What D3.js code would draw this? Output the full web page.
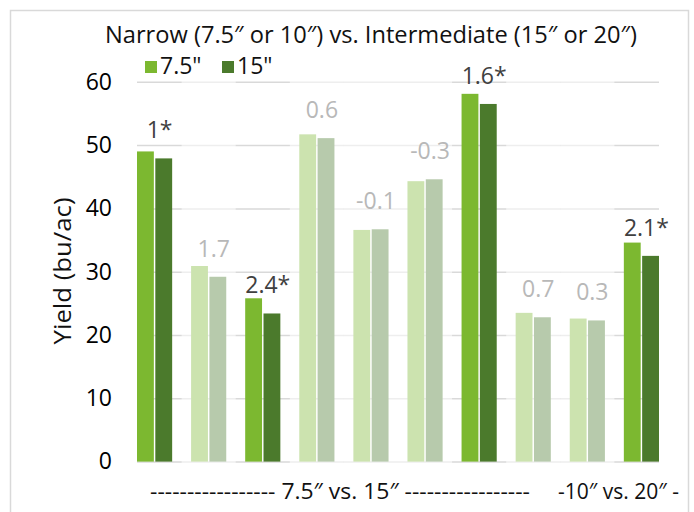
<!DOCTYPE html>
<html>
<head>
<meta charset="utf-8">
<script src="https://d3js.org/d3.v7.min.js"></script>
<style>
    body { margin: 0; background: #fff; }
    text { font-family: "Open Sans", "Noto Sans", sans-serif; }
</style>
</head>
<body>
<div id="elements"></div>
<script>
// Data
var groups = ["g1", "g2", "g3", "g4", "g5", "g6", "g7", "g8", "g9", "g10"];
var series = ["7.5\"", "15\""];
var narrow = [49.0, 30.9, 25.8, 51.7, 36.6, 44.3, 58.1, 23.5, 22.6, 34.6];
var intermediate = [47.9, 29.2, 23.4, 51.1, 36.7, 44.6, 56.5, 22.8, 22.3, 32.5];
var diffLabels = ["1*", "1.7", "2.4*", "0.6", "-0.1", "-0.3", "1.6*", "0.7", "0.3", "2.1*"];
var significant = [true, false, true, false, false, false, true, false, false, true];
var yTicks = [0, 10, 20, 30, 40, 50, 60];
var bottomLabels = ["----------------- 7.5\u2033 vs. 15\u2033 -----------------", "-10\u2033 vs. 20\u2033 -"];

var width = 694,
    height = 512;

var colors = {
    on: ["#7cb830", "#4b7a2c"],
    off: ["#cce3af", "#b7caac"]
};

var svg = d3.select("#elements").append("svg")
    .attr("width", width)
    .attr("height", height);

// outer frame
svg.append("rect")
    .attr("x", 10.5)
    .attr("y", 10.5)
    .attr("width", 678)
    .attr("height", 540)
    .attr("fill", "none")
    .attr("stroke", "#d9d9d9")
    .attr("stroke-width", 1.5);

var x = d3.scaleBand()
    .domain(groups)
    .range([137, 659])
    .paddingInner(0.35)
    .paddingOuter(0);

var xSub = d3.scaleBand()
    .domain(series)
    .range([0, x.bandwidth()])
    .paddingInner(0.08);

var y = d3.scaleLinear()
    .domain([0, 60])
    .range([461.6, 81.8]);

// gridlines
svg.append("g")
    .attr("class", "grid")
    .attr("transform", "translate(" + x.range()[0] + ",0)")
    .call(d3.axisLeft(y)
        .tickValues(yTicks)
        .tickSize(-(x.range()[1] - x.range()[0]))
        .tickFormat(""))
    .call(function(g) {
        g.select(".domain").remove();
        g.selectAll("line")
            .attr("stroke", "#d9d9d9")
            .attr("stroke-width", 1.5);
    });

// white wash behind the non significant groups
var half = x.step() * x.paddingInner() / 2;
svg.append("g")
    .selectAll("rect")
    .data(groups.filter(function(d, i) { return !significant[i]; }))
    .enter()
    .append("rect")
    .attr("x", function(d) { return x(d) - half; })
    .attr("y", y(60) - 2)
    .attr("width", x.bandwidth() + 2 * half)
    .attr("height", y(0) - y(60) + 4)
    .attr("fill", "#fff")
    .attr("opacity", 0.55);

// y tick labels
svg.append("g")
    .attr("transform", "translate(" + x.range()[0] + ",0)")
    .call(d3.axisLeft(y)
        .tickValues(yTicks)
        .tickSize(0)
        .tickPadding(25))
    .call(function(g) {
        g.select(".domain").remove();
        g.selectAll("text")
            .attr("font-family", "'Open Sans', sans-serif")
            .attr("font-size", 23)
            .attr("fill", "#000");
    });

// bars
var rows = groups.map(function(g, i) {
    return { group: g, i: i, values: [narrow[i], intermediate[i]] };
});

var groupSel = svg.append("g")
    .selectAll("g")
    .data(rows)
    .enter()
    .append("g")
    .attr("transform", function(d) { return "translate(" + x(d.group) + ",0)"; });

groupSel.selectAll("rect")
    .data(function(d) {
        return d.values.map(function(v, j) {
            return { key: series[j], value: v, j: j, sig: significant[d.i] };
        });
    })
    .enter()
    .append("rect")
    .attr("x", function(d) { return xSub(d.key); })
    .attr("y", function(d) { return y(d.value); })
    .attr("width", xSub.bandwidth())
    .attr("height", function(d) { return y(0) - y(d.value); })
    .attr("fill", function(d) { return d.sig ? colors.on[d.j] : colors.off[d.j]; });

// difference labels above the 15" bar
svg.append("g")
    .selectAll("text")
    .data(rows)
    .enter()
    .append("text")
    .attr("x", function(d) { return x(d.group) + x.bandwidth() / 2 + 5; })
    .attr("y", function(d) { return y(d.values[1]) - 20; })
    .attr("text-anchor", "middle")
    .attr("font-size", 23)
    .attr("fill", function(d) { return significant[d.i] ? "#404040" : "#b8b8b8"; })
    .text(function(d) { return diffLabels[d.i]; });

// title
svg.append("text")
    .attr("x", 371)
    .attr("y", 43)
    .attr("text-anchor", "middle")
    .attr("font-size", 23)
    .attr("fill", "#111")
    .attr("textLength", 532)
    .attr("lengthAdjust", "spacingAndGlyphs")
    .text("Narrow (7.5\u2033 or 10\u2033) vs. Intermediate (15\u2033 or 20\u2033)");

// legend
var legend = svg.append("g")
    .selectAll("g")
    .data(series)
    .enter()
    .append("g")
    .attr("transform", function(d, i) { return "translate(" + (145 + i * 77) + ",61)"; });

legend.append("rect")
    .attr("width", 12)
    .attr("height", 12)
    .attr("fill", function(d, i) { return colors.on[i]; });

legend.append("text")
    .attr("x", 15)
    .attr("y", 13)
    .attr("font-size", 23)
    .attr("fill", "#111")
    .text(function(d) { return d; });

// y axis title
svg.append("text")
    .attr("transform", "translate(71,271) rotate(-90)")
    .attr("text-anchor", "middle")
    .attr("font-size", 23)
    .attr("fill", "#111")
    .attr("textLength", 147)
    .attr("lengthAdjust", "spacingAndGlyphs")
    .text("Yield (bu/ac)");

// bottom category labels
svg.append("text")
    .attr("x", 150)
    .attr("y", 499)
    .attr("font-size", 22)
    .attr("fill", "#111")
    .attr("textLength", 380)
    .attr("lengthAdjust", "spacingAndGlyphs")
    .text(bottomLabels[0]);

svg.append("text")
    .attr("x", 558)
    .attr("y", 499)
    .attr("font-size", 22)
    .attr("fill", "#111")
    .attr("textLength", 121)
    .attr("lengthAdjust", "spacingAndGlyphs")
    .text(bottomLabels[1]);
</script>
</body>
</html>
